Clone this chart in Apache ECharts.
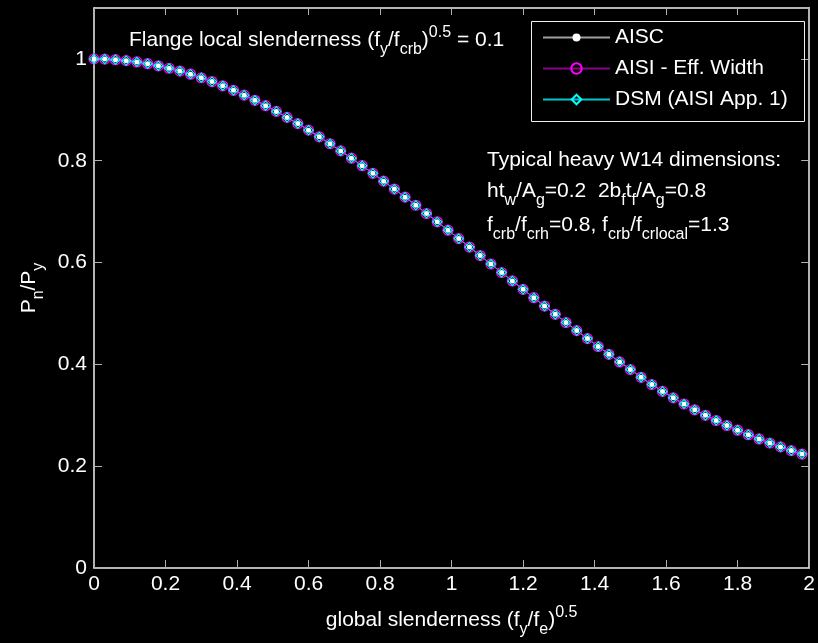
<!DOCTYPE html>
<html>
<head>
<meta charset="utf-8">
<script src="https://cdn.jsdelivr.net/npm/echarts@6/dist/echarts.min.js"></script>
<style>
  html, body { margin: 0; padding: 0; background: #000; }
  #chart { width: 818px; height: 643px; }
</style>
</head>
<body>
<div id="chart"></div>
<script>
// ---- data ----
const xValues = [0, 0.03, 0.06, 0.09, 0.12, 0.15, 0.18, 0.21, 0.24, 0.27,
  0.30, 0.33, 0.36, 0.39, 0.42, 0.45, 0.48, 0.51, 0.54, 0.57,
  0.60, 0.63, 0.66, 0.69, 0.72, 0.75, 0.78, 0.81, 0.84, 0.87,
  0.90, 0.93, 0.96, 0.99, 1.02, 1.05, 1.08, 1.11, 1.14, 1.17,
  1.20, 1.23, 1.26, 1.29, 1.32, 1.35, 1.38, 1.41, 1.44, 1.47,
  1.50, 1.53, 1.56, 1.59, 1.62, 1.65, 1.68, 1.71, 1.74, 1.77,
  1.80, 1.83, 1.86, 1.89, 1.92, 1.95, 1.98];

const aiscValues = [1.0000, 0.9996, 0.9985, 0.9966, 0.9940, 0.9906, 0.9865, 0.9817, 0.9762, 0.9700,
  0.9630, 0.9555, 0.9472, 0.9383, 0.9288, 0.9187, 0.9081, 0.8969, 0.8851, 0.8729,
  0.8601, 0.8470, 0.8333, 0.8193, 0.8050, 0.7902, 0.7752, 0.7599, 0.7443, 0.7285,
  0.7125, 0.6963, 0.6800, 0.6635, 0.6470, 0.6304, 0.6137, 0.5971, 0.5804, 0.5639,
  0.5473, 0.5309, 0.5145, 0.4983, 0.4822, 0.4663, 0.4506, 0.4351, 0.4198, 0.4048,
  0.3899, 0.3746, 0.3604, 0.3469, 0.3342, 0.3221, 0.3107, 0.2999, 0.2897, 0.2799,
  0.2707, 0.2619, 0.2535, 0.2455, 0.2379, 0.2306, 0.2237];

const aisiValues = [1.0000, 0.9996, 0.9985, 0.9966, 0.9940, 0.9906, 0.9865, 0.9817, 0.9762, 0.9700,
  0.9630, 0.9555, 0.9472, 0.9383, 0.9288, 0.9187, 0.9081, 0.8969, 0.8851, 0.8729,
  0.8601, 0.8470, 0.8333, 0.8193, 0.8050, 0.7902, 0.7752, 0.7599, 0.7443, 0.7285,
  0.7125, 0.6963, 0.6800, 0.6635, 0.6470, 0.6304, 0.6137, 0.5971, 0.5804, 0.5639,
  0.5473, 0.5309, 0.5145, 0.4983, 0.4822, 0.4663, 0.4506, 0.4351, 0.4198, 0.4048,
  0.3899, 0.3746, 0.3604, 0.3469, 0.3342, 0.3221, 0.3107, 0.2999, 0.2897, 0.2799,
  0.2707, 0.2619, 0.2535, 0.2455, 0.2379, 0.2306, 0.2237];

const dsmValues = [1.0000, 0.9996, 0.9985, 0.9966, 0.9940, 0.9906, 0.9865, 0.9817, 0.9762, 0.9700,
  0.9630, 0.9555, 0.9472, 0.9383, 0.9288, 0.9187, 0.9081, 0.8969, 0.8851, 0.8729,
  0.8601, 0.8470, 0.8333, 0.8193, 0.8050, 0.7902, 0.7752, 0.7599, 0.7443, 0.7285,
  0.7125, 0.6963, 0.6800, 0.6635, 0.6470, 0.6304, 0.6137, 0.5971, 0.5804, 0.5639,
  0.5473, 0.5309, 0.5145, 0.4983, 0.4822, 0.4663, 0.4506, 0.4351, 0.4198, 0.4048,
  0.3899, 0.3746, 0.3604, 0.3469, 0.3342, 0.3221, 0.3107, 0.2999, 0.2897, 0.2799,
  0.2707, 0.2619, 0.2535, 0.2455, 0.2379, 0.2306, 0.2237];

const seriesNames = ['AISC', 'AISI - Eff. Width', 'DSM (AISI App. 1)'];
const xTickLabels = ['0', '0.2', '0.4', '0.6', '0.8', '1', '1.2', '1.4', '1.6', '1.8', '2'];
const yTickLabels = ['0', '0.2', '0.4', '0.6', '0.8', '1'];

// ---- chart ----
const FONT = '"Liberation Sans", Arial, Helvetica, sans-serif';
const FS = 21;
const richStyles = {
  sub: { fontSize: 16, fontFamily: FONT, color: '#fff', padding: [20, 0, 0, 0] },
  sup: { fontSize: 16, fontFamily: FONT, color: '#fff', padding: [0, 0, 14, 0] }
};

function pairs(vals) { return xValues.map((x, i) => [x, vals[i]]); }

const chart = echarts.init(document.getElementById('chart'), null, { renderer: 'canvas' });

const axisCommon = {
  type: 'value',
  axisLine: { show: true, onZero: false, lineStyle: { color: '#f0f0f0', width: 1.5 } },
  splitLine: { show: false }
};

const legendCommon = {
  orient: 'horizontal',
  left: 542,
  padding: 0,
  itemWidth: 67,
  selectedMode: false,
  textStyle: { color: '#fff', fontSize: FS, fontFamily: FONT, lineHeight: 21 }
};

const option = {
  backgroundColor: '#000',
  animation: false,
  grid: { left: 94, right: 8, top: 8, bottom: 75, containLabel: false },
  xAxis: [
    Object.assign({}, axisCommon, {
      position: 'bottom', min: 0, max: 2, interval: 0.2,
      axisTick: { show: true, inside: true, length: 8, lineStyle: { color: '#b0b0b0' } },
      axisLabel: {
        color: '#fff', fontSize: FS, fontFamily: FONT, margin: 6,
        formatter: (v) => xTickLabels[Math.round(v / 0.2)]
      },
      name: 'global slenderness (f{sub|y}/f{sub|e}){sup|0.5}',
      nameLocation: 'middle', nameGap: 52,
      nameTextStyle: { color: '#fff', fontSize: FS, fontFamily: FONT, verticalAlign: 'middle', rich: richStyles }
    }),
    Object.assign({}, axisCommon, {
      position: 'top', min: 0, max: 2, interval: 0.2,
      axisTick: { show: true, inside: true, length: 7, lineStyle: { color: '#b0b0b0' } },
      axisLabel: { show: false }
    })
  ],
  yAxis: [
    Object.assign({}, axisCommon, {
      position: 'left', min: 0, max: 1.1, interval: 0.2,
      axisTick: { show: true, inside: true, length: 8, lineStyle: { color: '#b0b0b0' } },
      axisLabel: {
        color: '#fff', fontSize: FS, fontFamily: FONT, margin: 7, showMaxLabel: false,
        formatter: (v) => { const i = Math.round(v / 0.2); return (Math.abs(v - i * 0.2) < 1e-6 && i < yTickLabels.length) ? yTickLabels[i] : ''; }
      },
      name: 'P{sub|n}/P{sub|y}',
      nameLocation: 'middle', nameGap: 64,
      nameTextStyle: { color: '#fff', fontSize: FS, fontFamily: FONT, verticalAlign: 'middle', rich: richStyles }
    }),
    Object.assign({}, axisCommon, {
      position: 'right', min: 0, max: 1.1, interval: 0.2,
      axisTick: { show: true, inside: true, length: 8, lineStyle: { color: '#b0b0b0' } },
      axisLabel: { show: false }
    })
  ],
  legend: [
    Object.assign({}, legendCommon, { data: [seriesNames[0]], top: 27, itemHeight: 10 }),
    Object.assign({}, legendCommon, { data: [seriesNames[1]], top: 58, itemHeight: 13 }),
    Object.assign({}, legendCommon, { data: [seriesNames[2]], top: 89, itemHeight: 12 })
  ],
  series: [
    {
      name: seriesNames[0], type: 'line', xAxisIndex: 0, yAxisIndex: 0,
      data: pairs(aiscValues),
      symbol: 'circle', symbolSize: 5, showAllSymbol: true,
      lineStyle: { color: '#a0a0a0', width: 1 },
      itemStyle: { color: '#ffffff' }
    },
    {
      name: seriesNames[1], type: 'line', xAxisIndex: 0, yAxisIndex: 0,
      data: pairs(aisiValues),
      symbol: 'circle', symbolSize: 10, showAllSymbol: true,
      lineStyle: { color: '#8c008c', width: 1 },
      itemStyle: { color: 'rgba(0,0,0,0)', borderColor: '#ff00ff', borderWidth: 1.2 }
    },
    {
      name: seriesNames[2], type: 'line', xAxisIndex: 0, yAxisIndex: 0,
      data: pairs(dsmValues),
      symbol: 'diamond', symbolSize: 9, showAllSymbol: true,
      lineStyle: { color: '#00c8c8', width: 1 },
      itemStyle: { color: 'rgba(0,0,0,0)', borderColor: '#00ffff', borderWidth: 1.2 }
    }
  ],
  graphic: [
    {
      type: 'rect', left: 529, top: 19, z: 5,
      shape: { x: 0, y: 0, width: 273, height: 100 },
      style: { fill: 'none', stroke: '#f0f0f0', lineWidth: 1 }
    },
    {
      type: 'text', x: 129, y: 40, z: 5,
      style: {
        text: 'Flange local slenderness (f{sub|y}/f{sub|crb}){sup|0.5} = 0.1',
        fill: '#fff', fontSize: FS, fontFamily: FONT, verticalAlign: 'middle', rich: richStyles
      }
    },
    {
      type: 'text', x: 487, y: 160, z: 5,
      style: {
        text: 'Typical heavy W14 dimensions:',
        fill: '#fff', fontSize: FS, fontFamily: FONT, verticalAlign: 'middle'
      }
    },
    {
      type: 'text', x: 487, y: 191, z: 5,
      style: {
        text: 'ht{sub|w}/A{sub|g}=0.2  2b{sub|f}t{sub|f}/A{sub|g}=0.8',
        fill: '#fff', fontSize: FS, fontFamily: FONT, verticalAlign: 'middle', rich: richStyles
      }
    },
    {
      type: 'text', x: 487, y: 225, z: 5,
      style: {
        text: 'f{sub|crb}/f{sub|crh}=0.8, f{sub|crb}/f{sub|crlocal}=1.3',
        fill: '#fff', fontSize: FS, fontFamily: FONT, verticalAlign: 'middle', rich: richStyles
      }
    }
  ]
};

chart.setOption(option);
</script>
</body>
</html>
